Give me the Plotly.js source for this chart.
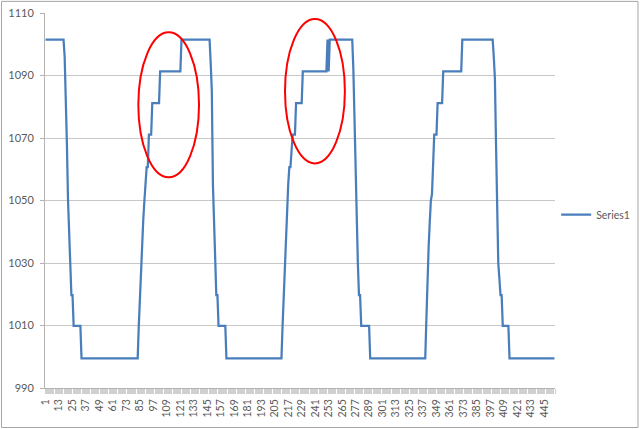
<!DOCTYPE html>
<html>
<head>
<meta charset="utf-8">
<script src="https://cdn.plot.ly/plotly-3.0.1.min.js"></script>
<style>
  html, body { margin: 0; padding: 0; background: #ffffff; }
  #chart { width: 640px; height: 429px; }
</style>
</head>
<body>
<div id="chart"></div>
<script>
// Series name
const seriesName = "Series1";

// Tick labels shown on the category axis
const tickLabels = [1,13,25,37,49,61,73,85,97,109,121,133,145,157,169,181,193,205,217,229,241,253,265,277,289,301,313,325,337,349,361,373,385,397,409,421,433,445];

// Series1 values, one per category
const series1 = [
  // 1-17
  1101.5,1101.5,1101.5,1101.5,1101.5,1101.5,1101.5,1101.5,1101.5,1101.5,
  1101.5,1101.5,1101.5,1101.5,1101.5,1101.5,1101.5,
  // 18-25
  1096,1085,1068,1050,1040,1030,1019.7,1019.7,
  // 26-32
  1009.9,1009.9,1009.9,1009.9,1009.9,1009.9,1009.9,
  // 33-83
  999.5,999.5,999.5,999.5,999.5,999.5,999.5,999.5,999.5,999.5,
  999.5,999.5,999.5,999.5,999.5,999.5,999.5,999.5,999.5,999.5,
  999.5,999.5,999.5,999.5,999.5,999.5,999.5,999.5,999.5,999.5,
  999.5,999.5,999.5,999.5,999.5,999.5,999.5,999.5,999.5,999.5,
  999.5,999.5,999.5,999.5,999.5,999.5,999.5,999.5,999.5,999.5,
  999.5,
  // 84-95
  1010,1020,1030,1037,1044,1050,1055,1060.7,1060.7,1071.1,1071.1,1071.1,
  // 96-102
  1081.2,1081.2,1081.2,1081.2,1081.2,1081.2,1081.2,
  // 103-121
  1091.3,1091.3,1091.3,1091.3,1091.3,1091.3,1091.3,1091.3,1091.3,1091.3,
  1091.3,1091.3,1091.3,1091.3,1091.3,1091.3,1091.3,1091.3,1091.3,
  // 122-147
  1101.5,1101.5,1101.5,1101.5,1101.5,1101.5,1101.5,1101.5,1101.5,1101.5,
  1101.5,1101.5,1101.5,1101.5,1101.5,1101.5,1101.5,1101.5,1101.5,1101.5,
  1101.5,1101.5,1101.5,1101.5,1101.5,1101.5,
  // 148-154
  1094,1085,1055,1042,1030,1019.7,1019.7,
  // 155-161
  1009.9,1009.9,1009.9,1009.9,1009.9,1009.9,1009.9,
  // 162-211
  999.5,999.5,999.5,999.5,999.5,999.5,999.5,999.5,999.5,999.5,
  999.5,999.5,999.5,999.5,999.5,999.5,999.5,999.5,999.5,999.5,
  999.5,999.5,999.5,999.5,999.5,999.5,999.5,999.5,999.5,999.5,
  999.5,999.5,999.5,999.5,999.5,999.5,999.5,999.5,999.5,999.5,
  999.5,999.5,999.5,999.5,999.5,999.5,999.5,999.5,999.5,999.5,
  // 212-223
  1010,1020,1030,1040,1050,1055,1060.7,1060.7,1066,1071.1,1071.1,1071.1,
  // 224-229
  1081.2,1081.2,1081.2,1081.2,1081.2,1081.2,
  // 230-251
  1091.3,1091.3,1091.3,1091.3,1091.3,1091.3,1091.3,1091.3,1091.3,1091.3,
  1091.3,1091.3,1091.3,1091.3,1091.3,1091.3,1091.3,1091.3,1091.3,1091.3,
  1091.3,1091.3,
  // 252-253
  1101.5,1091.3,
  // 254-274
  1101.5,1101.5,1101.5,1101.5,1101.5,1101.5,1101.5,1101.5,1101.5,1101.5,
  1101.5,1101.5,1101.5,1101.5,1101.5,1101.5,1101.5,1101.5,1101.5,1101.5,
  1101.5,
  // 275-281
  1092,1075,1060,1045,1030,1019.7,1019.7,
  // 282-289
  1009.9,1009.9,1009.9,1009.9,1009.9,1009.9,1009.9,1009.9,
  // 290-339
  999.5,999.5,999.5,999.5,999.5,999.5,999.5,999.5,999.5,999.5,
  999.5,999.5,999.5,999.5,999.5,999.5,999.5,999.5,999.5,999.5,
  999.5,999.5,999.5,999.5,999.5,999.5,999.5,999.5,999.5,999.5,
  999.5,999.5,999.5,999.5,999.5,999.5,999.5,999.5,999.5,999.5,
  999.5,999.5,999.5,999.5,999.5,999.5,999.5,999.5,999.5,999.5,
  // 340-349
  1012,1027,1035,1043,1050,1052,1062,1071.1,1071.1,1071.1,
  // 350-354
  1081.2,1081.2,1081.2,1081.2,1081.2,
  // 355-371
  1091.3,1091.3,1091.3,1091.3,1091.3,1091.3,1091.3,1091.3,1091.3,1091.3,
  1091.3,1091.3,1091.3,1091.3,1091.3,1091.3,1091.3,
  // 372-399
  1101.5,1101.5,1101.5,1101.5,1101.5,1101.5,1101.5,1101.5,1101.5,1101.5,
  1101.5,1101.5,1101.5,1101.5,1101.5,1101.5,1101.5,1101.5,1101.5,1101.5,
  1101.5,1101.5,1101.5,1101.5,1101.5,1101.5,1101.5,1101.5,
  // 400-407
  1096,1089,1068,1050,1030,1025,1019.7,1019.7,
  // 408-413
  1009.9,1009.9,1009.9,1009.9,1009.9,1009.9,
  // 414-454
  999.5,999.5,999.5,999.5,999.5,999.5,999.5,999.5,999.5,999.5,
  999.5,999.5,999.5,999.5,999.5,999.5,999.5,999.5,999.5,999.5,
  999.5,999.5,999.5,999.5,999.5,999.5,999.5,999.5,999.5,999.5,
  999.5,999.5,999.5,999.5,999.5,999.5,999.5,999.5,999.5,999.5,
  999.5
];

// Category numbers 1..N
const categories = series1.map((_, i) => i + 1);

const FONT = "Lato, 'Liberation Sans', Arial, sans-serif";
const GRID = "#c8c8c8";
const AXIS = "#b3b3b3";
const TXT = "#595959";

const trace = {
  type: "scatter",
  mode: "lines",
  name: seriesName,
  x: categories,
  y: series1,
  line: { color: "#4a7ebb", width: 2.25 },
  hoverinfo: "x+y"
};

const N = categories.length;

const layout = {
  width: 640,
  height: 429,
  margin: { l: 45, r: 85, t: 13, b: 41, pad: 0 },
  paper_bgcolor: "#ffffff",
  plot_bgcolor: "#ffffff",
  font: { family: FONT, size: 10, color: TXT },
  showlegend: true,
  legend: {
    xref: "container", yref: "container",
    x: 0.869, xanchor: "left",
    y: 0.50, yanchor: "middle",
    font: { family: FONT, size: 10.5, color: TXT },
    bgcolor: "rgba(0,0,0,0)",
    borderwidth: 0
  },
  xaxis: {
    type: "linear",
    range: [0.5, N + 0.5],
    tickmode: "array",
    tickvals: tickLabels,
    ticktext: tickLabels.map(String),
    tickangle: -90,
    ticks: "",
    ticklabelstandoff: 6,
    tickfont: { family: FONT, size: 10.5, color: TXT },
    showgrid: false,
    zeroline: false,
    showline: true,
    linecolor: AXIS,
    linewidth: 1,
    minor: {
      tickmode: "linear",
      tick0: 0.5,
      dtick: 1,
      ticks: "outside",
      ticklen: 5,
      tickwidth: 1,
      tickcolor: "#d0d0d0",
      showgrid: false
    }
  },
  yaxis: {
    range: [990, 1110],
    tickmode: "linear",
    tick0: 990,
    dtick: 20,
    ticks: "outside",
    ticklen: 4,
    tickcolor: AXIS,
    ticklabelstandoff: 4,
    tickfont: { family: FONT, size: 11, color: TXT },
    showgrid: true,
    gridcolor: GRID,
    gridwidth: 1,
    zeroline: false,
    showline: true,
    linecolor: AXIS,
    linewidth: 1
  },
  shapes: [
    // chart outer border
    { type: "rect", xref: "paper", yref: "paper",
      x0: -0.0853, x1: 1.1627, y0: -0.1053, y1: 1.031,
      line: { color: "#a6a6a6", width: 1 }, fillcolor: "rgba(0,0,0,0)", layer: "below" },
    // red ellipses
    { type: "circle", xref: "paper", yref: "paper",
      x0: 0.183, x1: 0.302, y0: 0.562, y1: 0.9485,
      line: { color: "#ff0000", width: 2 }, fillcolor: "rgba(0,0,0,0)" },
    { type: "circle", xref: "paper", yref: "paper",
      x0: 0.4706, x1: 0.588, y0: 0.599, y1: 0.984,
      line: { color: "#ff0000", width: 2 }, fillcolor: "rgba(0,0,0,0)" }
  ]
};

Plotly.newPlot("chart", [trace], layout, { displayModeBar: false, staticPlot: true });
</script>
</body>
</html>
